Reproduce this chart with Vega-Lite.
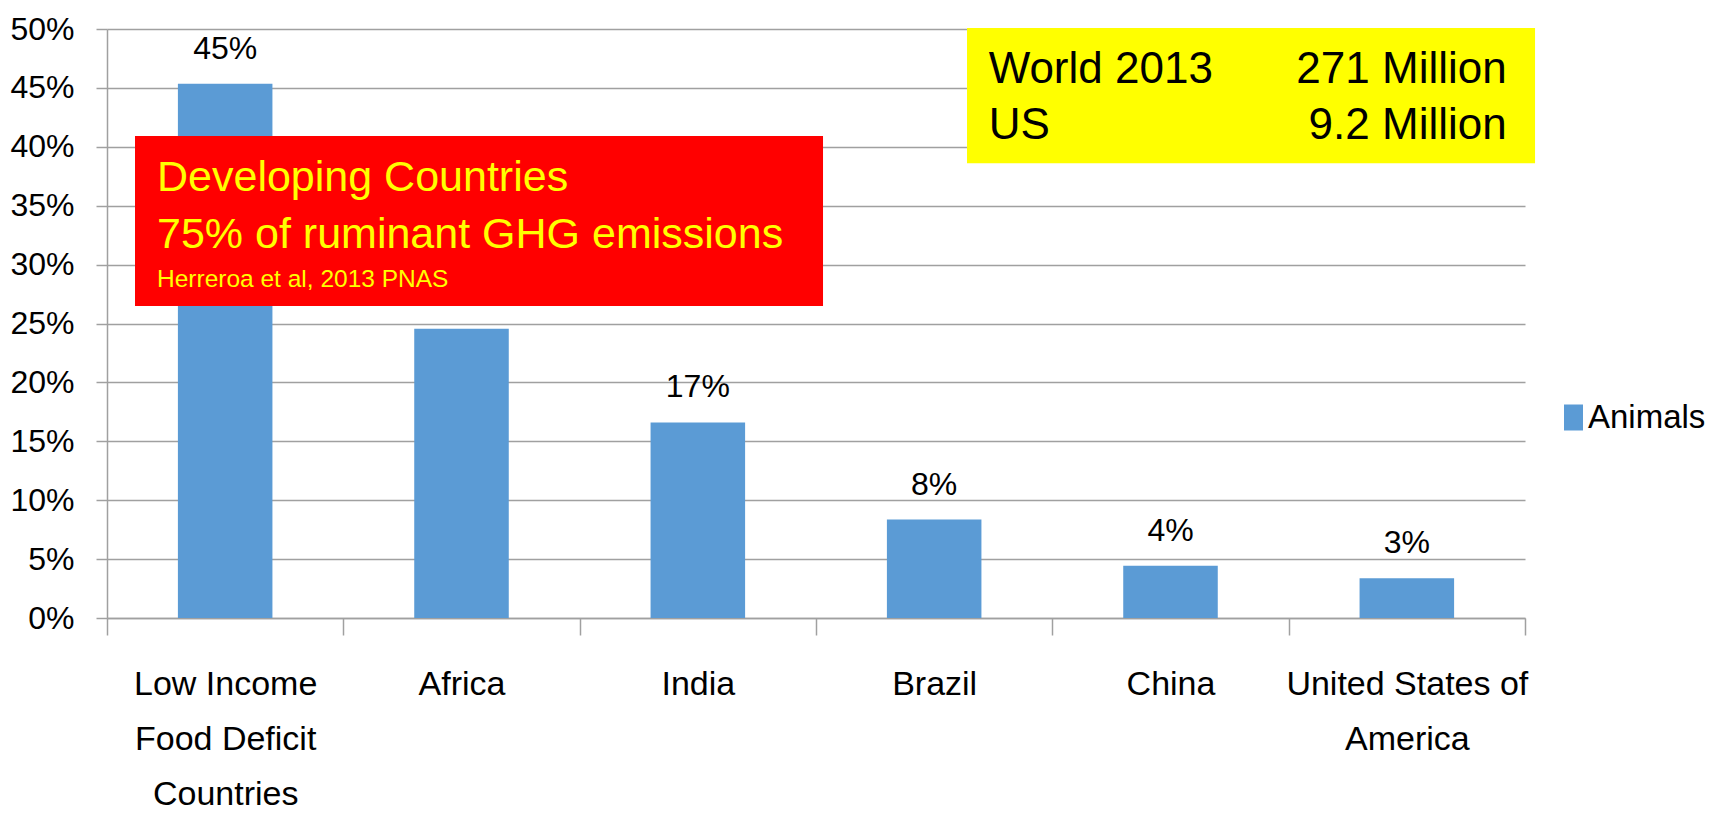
{
  "$schema": "https://vega.github.io/schema/vega-lite/v6.json",
  "width": 1418,
  "height": 589,
  "autosize": {"type": "none"},
  "padding": {"left": 107, "top": 29, "right": 200, "bottom": 197},
  "background": "white",
  "config": {
    "view": {"stroke": null},
    "font": "Liberation Sans"
  },
  "resolve": {"scale": {"x": "independent"}},
  "layer": [
    {
      "data": {
        "values": [
          {"region": "Low Income Food Deficit Countries", "share": 0.4535, "series": "Animals"},
          {"region": "Africa", "share": 0.2455, "series": "Animals"},
          {"region": "India", "share": 0.166, "series": "Animals"},
          {"region": "Brazil", "share": 0.0836, "series": "Animals"},
          {"region": "China", "share": 0.0443, "series": "Animals"},
          {"region": "United States of America", "share": 0.0338, "series": "Animals"}
        ]
      },
      "encoding": {
        "x": {
          "field": "region",
          "type": "nominal",
          "sort": null,
          "scale": {"paddingInner": 0, "paddingOuter": 0},
          "axis": {
            "title": null,
            "orient": "bottom",
            "tickBand": "extent",
            "tickExtra": true,
            "tickSize": 17,
            "tickColor": "#A0A0A0",
            "tickWidth": 1.5,
            "domainColor": "#A0A0A0",
            "domainWidth": 1.5,
            "labelAngle": 0,
            "labelAlign": "center",
            "labelBaseline": "top",
            "labelPadding": 32,
            "labelFont": "Liberation Sans",
            "labelFontSize": 34,
            "labelLineHeight": 55,
            "labelColor": "#000000",
            "labelLimit": 400,
            "labelOverlap": false,
            "labelBound": false,
            "labelExpr": "datum.value == 'Low Income Food Deficit Countries' ? ['Low Income', 'Food Deficit', 'Countries'] : datum.value == 'United States of America' ? ['United States of', 'America'] : datum.value"
          }
        },
        "y": {
          "field": "share",
          "type": "quantitative",
          "scale": {"domain": [0, 0.5], "nice": false},
          "axis": {
            "title": null,
            "values": [0, 0.05, 0.1, 0.15, 0.2, 0.25, 0.3, 0.35, 0.4, 0.45, 0.5],
            "format": ".0%",
            "grid": true,
            "gridColor": "#A0A0A0",
            "gridWidth": 1.5,
            "domainColor": "#A0A0A0",
            "domainWidth": 1.5,
            "tickColor": "#A0A0A0",
            "tickWidth": 1.5,
            "tickSize": 11,
            "labelPadding": 22,
            "labelFont": "Liberation Sans",
            "labelFontSize": 32,
            "labelColor": "#000000"
          }
        }
      },
      "layer": [
        {
          "mark": {"type": "bar", "width": {"band": 0.4}},
          "encoding": {
            "color": {
              "field": "series",
              "type": "nominal",
              "scale": {"domain": ["Animals"], "range": ["#5B9BD5"]},
              "legend": {
                "title": null,
                "orient": "none",
                "legendX": 1450,
                "legendY": 372,
                "padding": 0,
                "symbolType": "M-0.73,-1H0.73V1H-0.73Z",
                "symbolSize": 676,
                "symbolStrokeWidth": 0,
                "labelFont": "Liberation Sans",
                "labelFontSize": 33,
                "labelColor": "#000000",
                "labelOffset": -2,
                "labelLimit": 300
              }
            }
          }
        },
        {
          "transform": [{"filter": "datum.region != 'Africa'"}],
          "mark": {
            "type": "text",
            "baseline": "alphabetic",
            "dy": -25,
            "font": "Liberation Sans",
            "fontSize": 32,
            "color": "#000000"
          },
          "encoding": {
            "text": {"field": "share", "type": "quantitative", "format": ".0%"}
          }
        }
      ]
    },
    {
      "data": {"values": [{}]},
      "layer": [
        {
          "mark": {"type": "rect", "color": "#FF0000"},
          "encoding": {
            "x": {"datum": 0.1185, "type": "quantitative", "scale": {"domain": [0, 6], "nice": false, "zero": false}, "axis": null},
            "x2": {"datum": 3.0297},
            "y": {"datum": 0.4092, "type": "quantitative"},
            "y2": {"datum": 0.2649}
          }
        },
        {
          "mark": {
            "type": "text",
            "text": ["Developing Countries", "75% of ruminant GHG emissions"],
            "align": "left",
            "baseline": "alphabetic",
            "lineHeight": 57,
            "font": "Liberation Sans",
            "fontSize": 43,
            "color": "#FFFF00"
          },
          "encoding": {
            "x": {"datum": 0.2116, "type": "quantitative"},
            "y": {"datum": 0.3625, "type": "quantitative"}
          }
        },
        {
          "mark": {
            "type": "text",
            "text": "Herreroa et al, 2013 PNAS",
            "align": "left",
            "baseline": "alphabetic",
            "font": "Liberation Sans",
            "fontSize": 24.5,
            "color": "#FFFF00"
          },
          "encoding": {
            "x": {"datum": 0.2116, "type": "quantitative"},
            "y": {"datum": 0.2812, "type": "quantitative"}
          }
        },
        {
          "mark": {"type": "rect", "color": "#FFFF00"},
          "encoding": {
            "x": {"datum": 3.639, "type": "quantitative"},
            "x2": {"datum": 6.0425},
            "y": {"datum": 0.5008, "type": "quantitative"},
            "y2": {"datum": 0.386}
          }
        },
        {
          "mark": {
            "type": "text",
            "text": ["World 2013", "US"],
            "align": "left",
            "baseline": "alphabetic",
            "lineHeight": 56,
            "font": "Liberation Sans",
            "fontSize": 44,
            "color": "#000000"
          },
          "encoding": {
            "x": {"datum": 3.7306, "type": "quantitative"},
            "y": {"datum": 0.4539, "type": "quantitative"}
          }
        },
        {
          "mark": {
            "type": "text",
            "text": ["271 Million", "9.2 Million"],
            "align": "right",
            "baseline": "alphabetic",
            "lineHeight": 56,
            "font": "Liberation Sans",
            "fontSize": 44,
            "color": "#000000"
          },
          "encoding": {
            "x": {"datum": 5.9226, "type": "quantitative"},
            "y": {"datum": 0.4539, "type": "quantitative"}
          }
        }
      ]
    }
  ]
}
